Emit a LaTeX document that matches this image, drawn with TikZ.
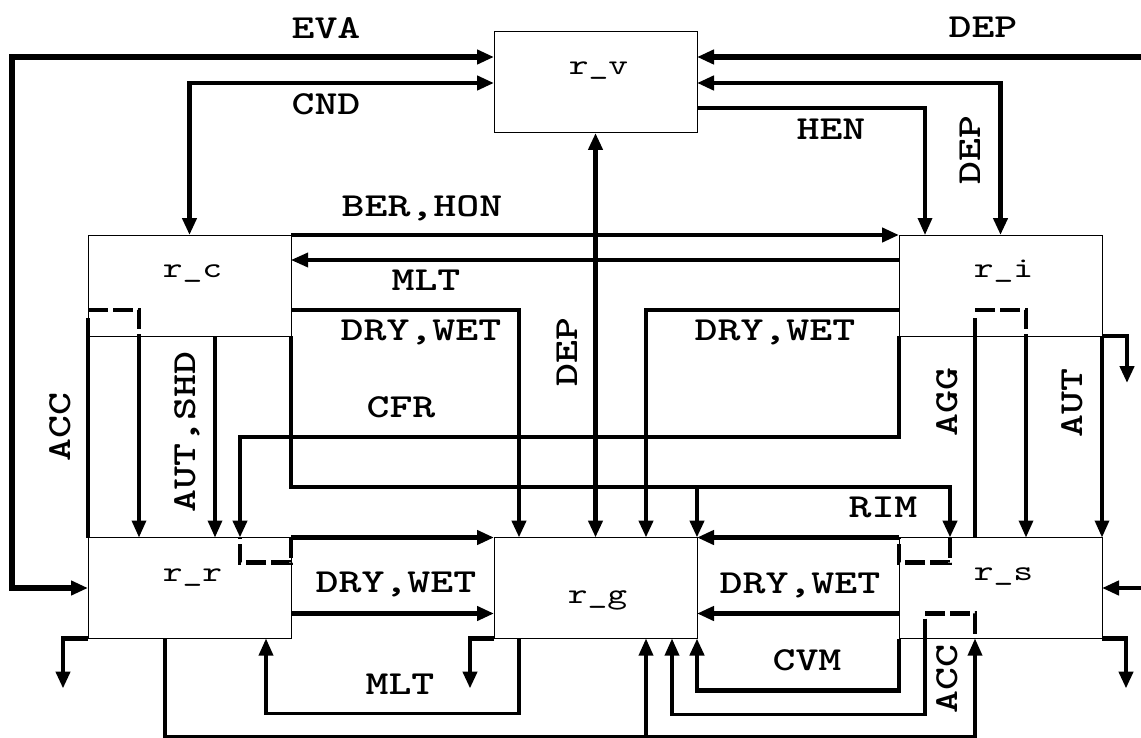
\documentclass[tikz,border=0pt]{standalone}
\usepackage{fontspec}
\newfontfamily\labfont{lmmonolt10-bold.otf}[FakeStretch=1.3]
\newfontfamily\boxfont{lmmono10-regular.otf}[FakeStretch=1.3]
\usetikzlibrary{calc, arrows.meta}

\begin{document}
\begin{tikzpicture}[x = 0.5pt, y = -0.5pt,
	>={Triangle[length=8.5pt, width=7pt]},
	box/.style = {draw, line width=0.5pt, minimum width=101.5pt, minimum height=50.5pt, inner sep=0pt, outer sep=0pt},
	boxtext/.style = {font=\fontsize{14.5}{16}\boxfont, inner sep=0pt, anchor=base},
	proc/.style = {font=\fontsize{16.8}{19}\labfont, inner sep=0pt, anchor=base},
	vproc/.style = {proc, rotate=90},
	heavyflow/.style = {line width=2.9pt},
	flow/.style = {line width=2.3pt},
	lightflow/.style = {line width=1.7pt},
	dashflow/.style = {flow, dash pattern=on 10pt off 2.5pt}]
	\useasboundingbox (0,0) rectangle (1141,738);

	% boxes
	\node [box] (rv) at (595.5,82.5) {};
	\node [box] (rc) at (189.5,285.5) {};
	\node [box] (ri) at (1000.5,285.5) {};
	\node [box] (rr) at (189.5,588) {};
	\node [box] (rg) at (595.5,588) {};
	\node [box] (rs) at (1000.5,588) {};

	\node [boxtext] (rvtext) at ($(rv.center)+(3,-7.5)$) {r\_v};
	\node [boxtext] (rctext) at ($(rc.center)+(3,-8.5)$) {r\_c};
	\node [boxtext] (ritext) at ($(ri.center)+(3,-8.5)$) {r\_i};
	\node [boxtext] (rrtext) at ($(rr.center)+(3,-7)$) {r\_r};
	\node [boxtext] (rgtext) at ($(rg.center)+(2,15)$) {r\_g};
	\node [boxtext] (rstext) at ($(rs.center)+(3,-8)$) {r\_s};

	\coordinate (depfar) at (1150,57);
	\coordinate (sfar) at (1150,588);

	% vapour
	\draw [heavyflow, <->] ($(rv.north west)+(0,25)$) -| ($(rr.west)+(-76,0)$) -- (rr.west);
	\node [proc] (eva) at (326,39) {EVA};
	\draw [flow, <->] ($(rv.north west)+(0,51)$) -| (rc.north);
	\node [proc] (cnd) at (326,115) {CND};
	\draw [heavyflow, ->] (depfar) -- ($(rv.north east)+(0,25)$);
	\node [proc] (deptop) at (983,38) {DEP};
	\draw [flow, <->] ($(rv.north east)+(0,51)$) -| (ri.north);
	\node [vproc] (depri) at (980,150) {DEP};
	\draw [lightflow, ->] ($(rv.north east)+(0,76)$) -| ($(ri.north west)+(26,0)$);
	\node [proc] (hen) at (831,140) {HEN};
	\draw [flow, <->] (rg.north) -- (rv.south);
	\node [vproc] (depg) at (577,352) {DEP};

	% cloud and ice
	\draw [flow, ->] (rc.north east) -- (ri.north west);
	\node [proc] (berhon) at (422,216) {BER,HON};
	\draw [lightflow, ->] ($(ri.north west)+(0,25)$) -- ($(rc.north east)+(0,25)$);
	\node [proc] (mltc) at (426,290) {MLT};
	\draw [flow, ->] ($(rc.north east)+(0,75)$) -| ($(rg.north west)+(25,0)$);
	\node [proc] (drywetc) at (421,340) {DRY,WET};
	\draw [flow, ->] ($(ri.north west)+(0,75)$) -| ($(rg.north west)+(152,0)$);
	\node [proc] (dryweti) at (775,340) {DRY,WET};
	\draw [flow, ->] (ri.south west) -- ($(ri.south west)+(0,101)$) -| ($(rr.north west)+(152,0)$);
	\node [proc] (cfr) at (401,417) {CFR};
	\draw [flow, ->] (rc.south east) -- ($(rc.south east)+(0,151)$) -| ($(rs.north west)+(51,0)$);
	\draw [flow, ->] ($(rc.south east)+(406,151)$) -- (rg.north east);
	\node [proc] (rim) at (883,517) {RIM};

	\draw [dashflow] ($(rc.south west)+(0,-26)$) -- ($(rc.south west)+(51,-26)$) -- ($(rc.south west)+(51,0)$);
	\draw [flow] ($(rc.south west)+(0,-18)$) -- (rr.north west);
	\draw [lightflow, ->] ($(rc.south west)+(51,0)$) -- ($(rr.north west)+(51,0)$);
	\draw [lightflow, ->] ($(rc.south west)+(127,0)$) -- ($(rr.north west)+(127,0)$);
	\node [vproc] (accc) at (70,427) {ACC};
	\node [vproc] (autshd) at (195,432) {AUT,SHD};

	\draw [dashflow] ($(ri.south west)+(76,-26)$) -- ($(ri.south west)+(127,-26)$) -- ($(ri.south west)+(127,0)$);
	\draw [flow] ($(ri.south west)+(76,-18)$) -- ($(rs.north west)+(76,0)$);
	\draw [lightflow, ->] ($(ri.south west)+(127,0)$) -- ($(rs.north west)+(127,0)$);
	\draw [lightflow, ->] (ri.south east) -- (rs.north east);
	\node [vproc] (agg) at (957,402) {AGG};
	\node [vproc] (auti) at (1082,403) {AUT};
	\draw [flow, ->] (ri.south east) -- ++(25,0) -- ++(0,47);

	% rain, graupel and snow
	\draw [dashflow] (rr.north east) -- ($(rr.north east)+(0,25)$) -| ($(rr.north west)+(152,0)$);
	\draw [flow, ->] (rr.north east) -- (rg.north west);
	\draw [flow, ->] ($(rr.north east)+(0,76)$) -- ($(rg.north west)+(0,76)$);
	\node [proc] (drywetr) at (396,592) {DRY,WET};

	\draw [dashflow] ($(rs.north west)+(51,0)$) -- ($(rs.north west)+(51,25)$) -| (rs.north west);
	\draw [flow, ->] (rs.north west) -- (rg.north east);
	\draw [flow, ->] ($(rs.north west)+(0,76)$) -- ($(rg.north east)+(0,76)$);
	\node [proc] (drywets) at (800,593) {DRY,WET};
	\draw [flow, ->] (sfar) -- (rs.east);

	\draw [lightflow, ->] ($(rg.south west)+(25,0)$) -- ++(0,75) -| ($(rr.south west)+(178,0)$);
	\node [proc] (mltr) at (400,694) {MLT};
	\draw [flow, ->] (rs.south west) -- ++(0,52) -| (rg.south east);
	\node [proc] (cvm) at (807,670) {CVM};
	\draw [dashflow] ($(rs.south west)+(26,-25)$) -- ($(rs.south west)+(76,-25)$) -- ($(rs.south west)+(76,0)$);
	\draw [lightflow, ->] ($(rs.south west)+(26,-20)$) -- ++(0,96) -| ($(rg.south west)+(178,0)$);
	\node [vproc] (accs) at (957,679) {ACC};

	\draw [lightflow, ->] ($(rr.south west)+(77,0)$) -- ++(0,98) -| ($(rs.south west)+(76,0)$);
	\draw [lightflow, ->] ($(rg.south west)+(152,98)$) -- ($(rg.south west)+(152,0)$);

	% sedimentation
	\draw [flow, ->] (rr.south west) -- ++(-25,0) -- ++(0,50);
	\draw [flow, ->] (rg.south west) -- ++(-24,0) -- ++(0,50);
	\draw [flow, ->] (rs.south east) -- ++(24,0) -- ++(0,50);
\end{tikzpicture}
\end{document}
